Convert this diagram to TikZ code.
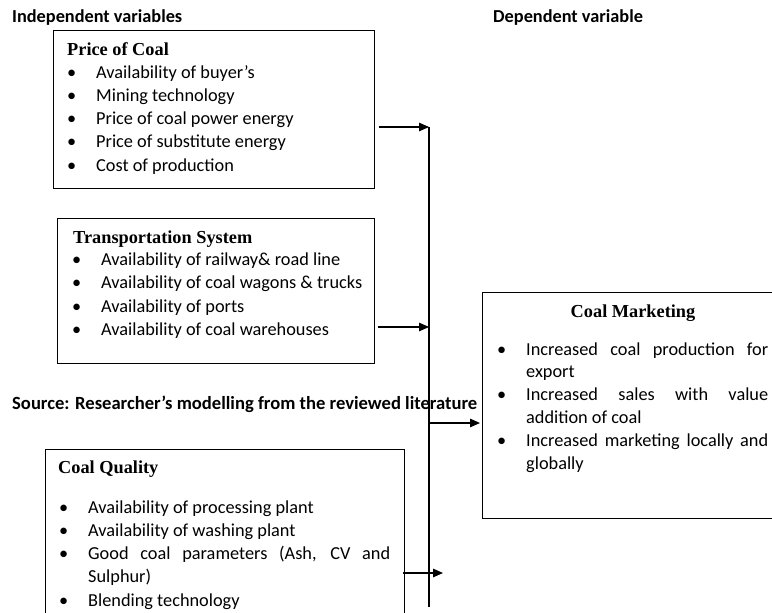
\documentclass[tikz,border=0pt]{standalone}
\usepackage{fontspec}
\setmainfont{Carlito}
\newfontfamily\headfont{Liberation Serif}
\usetikzlibrary{arrows.meta}
\newcommand\sz{\fontsize{18.3}{23.3}\selectfont}
\newcommand\itm{\noindent\hangindent=29pt\hangafter=1\makebox[29pt][l]{\textbullet}}

\begin{document}
\begin{tikzpicture}[x=1pt,y=-1pt]
\tikzstyle{frame}=[draw,line width=1.4pt,inner sep=0pt,anchor=north west];
\tikzstyle{head}=[anchor=base west,inner sep=0pt,font=\sz\headfont\bfseries];
\tikzstyle{items}=[anchor=base west,inner sep=0pt,align=justify,font=\sz];
\tikzstyle{caption}=[anchor=base west,inner sep=0pt,font=\sz\bfseries];
\tikzstyle{flow}=[-{Triangle[length=10pt,width=8.5pt]},line width=1.3pt];
\tikzstyle{bus}=[line width=1.3pt];
\useasboundingbox (0,0) rectangle (772,613);
\clip (0,0) rectangle (772,613);

\node [caption] (indep) at (12,22) {Independent variables};
\node [caption] (dep) at (493,22) {Dependent variable};
\node [caption,font=\fontsize{18.6}{23}\selectfont\bfseries] (src) at (12,409) {Source: Researcher’s modelling from the reviewed literature};

% independent variables
\node [frame,minimum width=321pt,minimum height=158pt] (price) at (53,30) {};
\node [head] (priceh) at (67,55) {Price of Coal};
\node [items,text width=300pt] (pricel) at (67,78) {\itm Availability of buyer’s\par
  \itm Mining technology\par \itm Price of coal power energy\par
  \itm Price of substitute energy\par \itm Cost of production\par};

\node [frame,minimum width=317pt,minimum height=145pt] (transport) at (57,218) {};
\node [head] (transporth) at (73,243) {Transportation System};
\node [items,text width=300pt] (transportl) at (72,265.5) {\itm Availability of railway\& road line\par
  \itm Availability of coal wagons \& trucks\par \itm Availability of ports\par
  \itm Availability of coal warehouses\par};

\node [frame,minimum width=359pt,minimum height=200pt] (quality) at (45,449) {};
\node [head] (qualityh) at (58,473) {Coal Quality};
\node [items,text width=331pt] (qualityl) at (59,513) {\itm Availability of processing plant\par
  \itm Availability of washing plant\par
  \itm Good coal parameters (Ash, CV and\linebreak Sulphur)\par
  \itm Blending technology\par};

% dependent variable
\node [frame,minimum width=340pt,minimum height=226pt] (market) at (482,292) {};
\node [head,anchor=base] (marketh) at (633,317) {Coal Marketing};
\node [items,text width=271pt,font=\fontsize{18.3}{22.8}\selectfont] (marketl) at (497,355) {\itm Increased coal production for\linebreak export\par
  \itm Increased sales with value\linebreak addition of coal\par
  \itm Increased marketing locally and\linebreak globally\par};

\coordinate (top) at (429,127);
\coordinate (bot) at (429,607);
\coordinate (in2) at (429,327);
\coordinate (out) at (429,423);
\coordinate (in3) at (443,573);
\draw [bus] (top) -- (bot);
\draw [flow] ([xshift=4pt]price.east |- top) -- (top);
\draw [flow] ([xshift=3pt]transport.east |- in2) -- (in2);
\draw [flow] (out) -- ([xshift=-2pt]market.west |- out);
\draw [flow] ([xshift=-2pt]quality.east |- in3) -- (in3);
\end{tikzpicture}
\end{document}
